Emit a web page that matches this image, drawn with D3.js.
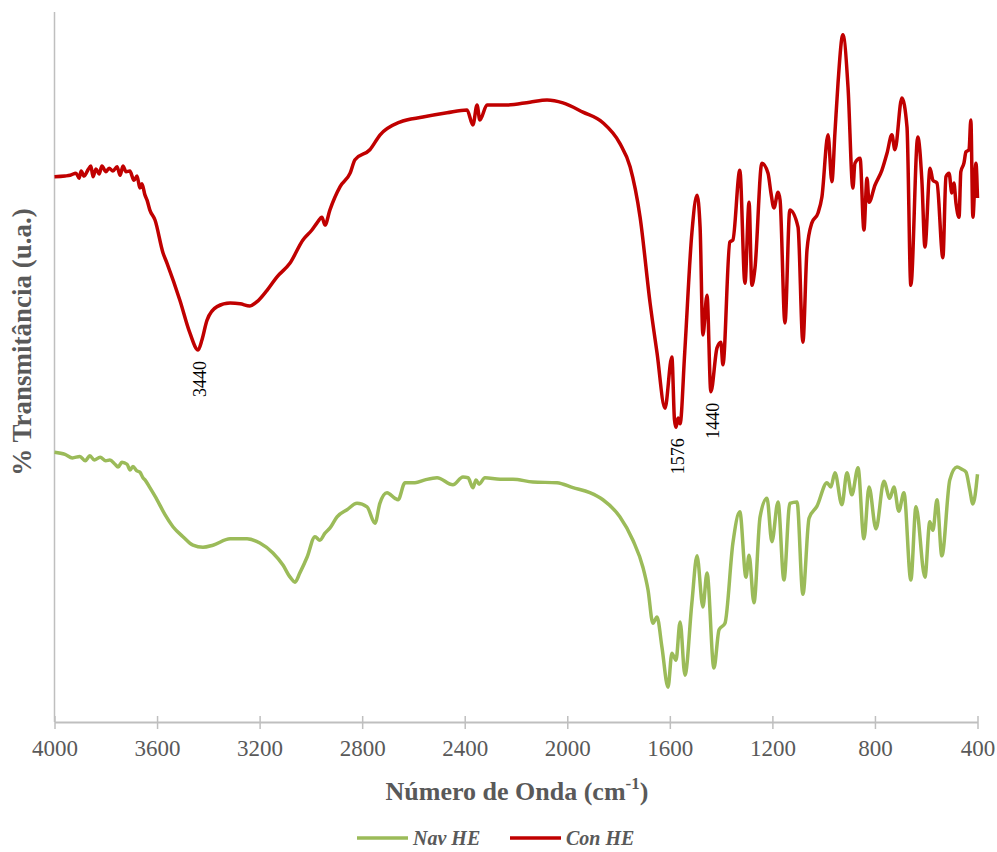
<!DOCTYPE html>
<html>
<head>
<meta charset="utf-8">
<script src="https://cdn.jsdelivr.net/npm/d3@7/dist/d3.min.js"></script>
<style>
  body { margin: 0; background: #ffffff; }
  svg { display: block; }
  text { font-family: "Liberation Serif", Tinos, "Times New Roman", Times, "DejaVu Serif", serif; }
</style>
</head>
<body>
<svg id="chart" width="997" height="852"></svg>
<script>
// FTIR spectra (stacked, arbitrary transmittance units)
const conWavenumber = [4000,3959,3939,3916,3904,3896,3885,3869,3858,3850,3838,3826,3815,3799,3787,3772,3756,3744,3733,3721,3706,3690,3678,3667,3659,3647,3639,3628,3608,3577,3561,3511,3472,3440,3425,3405,3366,3315,3276,3238,3210,3171,3132,3082,3031,2996,2976,2957,2945,2926,2886,2847,2828,2770,2730,2653,2563,2469,2391,2368,2352,2341,2313,2235,2146,2079,2017,1939,1861,1795,1755,1716,1677,1650,1619,1592,1582,1576,1568,1560,1542,1514,1494,1482,1471,1455,1440,1416,1401,1393,1366,1354,1327,1307,1291,1280,1268,1241,1217,1206,1194,1178,1170,1151,1132,1100,1081,1065,1046,1022,1007,983,968,956,944,925,905,886,878,858,843,831,823,800,773,753,734,722,695,675,660,633,617,605,585,574,558,535,523,511,500,492,484,472,465,453,445,433,426,418,406,400];
const conTransmittance = [76.8,76.9,77.0,77.3,76.6,77.6,76.9,77.8,78.3,76.8,77.9,77.2,78.3,77.5,78.0,77.6,78.2,77.0,78.3,77.5,77.6,76.3,76.9,75.2,75.8,74.2,73.5,72.1,70.7,66.1,64.6,59.4,54.8,52.4,53.8,56.6,58.5,59.0,58.9,58.6,59.2,60.8,62.7,64.6,67.9,69.3,70.3,71.1,70.0,72.1,75.4,77.3,79.2,80.6,82.7,84.5,85.2,85.8,86.2,84.1,86.9,84.8,86.9,86.9,87.3,87.6,87.2,85.9,84.4,81.5,78.2,71.1,59.0,52.0,44.2,51.4,42.6,41.5,42.8,42.0,52.0,68.9,74.2,69.7,54.5,60.1,46.5,52.7,53.5,50.3,67.6,67.9,77.7,61.8,73.2,61.5,63.9,78.7,77.3,74.6,72.4,74.6,73.5,56.2,72.1,69.7,53.5,66.5,70.3,71.7,73.9,82.7,76.1,83.0,90.0,96.8,89.4,75.2,78.7,79.4,69.3,76.6,73.2,75.6,77.7,80.1,82.7,80.6,87.9,83.8,61.5,82.4,76.3,66.9,78.0,76.3,75.9,65.4,76.8,77.3,74.5,75.9,73.1,71.1,77.5,78.7,80.3,80.6,84.8,71.1,78.7,73.8];

const navWavenumber = [4000,3959,3930,3901,3880,3862,3845,3822,3800,3784,3764,3752,3737,3717,3705,3694,3680,3667,3655,3647,3628,3600,3569,3538,3499,3460,3421,3382,3315,3249,3199,3148,3109,3081,3062,3043,3015,2984,2965,2945,2926,2898,2859,2820,2781,2750,2731,2703,2672,2660,2633,2594,2555,2508,2446,2407,2387,2368,2356,2344,2321,2262,2212,2134,2040,1978,1912,1861,1795,1744,1705,1685,1666,1650,1631,1607,1592,1576,1560,1541,1514,1494,1471,1455,1428,1408,1385,1354,1327,1303,1291,1272,1248,1221,1202,1178,1155,1132,1104,1081,1057,1026,987,972,956,929,909,890,866,843,823,796,765,742,726,707,687,660,640,605,586,574,558,539,508,480,461,445,430,418,400];
const navTransmittance = [38.0,37.7,37.2,37.4,36.8,37.5,36.9,37.3,36.8,36.9,36.3,35.9,36.6,36.3,35.5,36.0,35.4,35.2,34.4,34.1,33.0,31.3,29.2,27.5,26.1,24.9,24.6,24.9,25.8,25.8,25.2,23.8,22.1,20.4,19.7,21.0,23.2,26.1,25.6,26.6,27.3,28.9,29.9,30.8,30.3,28.0,30.8,32.3,31.5,31.3,33.7,33.7,34.1,34.4,33.4,34.5,34.4,33.0,34.1,33.5,34.4,34.2,34.2,33.8,33.7,33.0,32.3,31.3,28.9,25.6,21.8,18.6,13.9,14.8,10.6,4.9,9.7,8.7,14.1,6.6,16.8,23.4,16.2,21.0,7.6,13.0,13.9,25.2,29.6,20.4,23.5,16.8,28.9,31.5,25.4,31.0,20.0,30.8,31.0,18.0,28.7,30.4,33.7,33.1,35.1,30.6,35.1,32.0,35.8,25.8,33.1,27.2,33.9,31.5,33.1,29.7,32.3,20.0,30.3,20.4,28.2,27.0,31.3,23.4,34.1,35.9,35.6,35.2,32.7,30.7,34.9];

const xTickValues = [4000,3600,3200,2800,2400,2000,1600,1200,800,400];
const peakLabels = [3440,1576,1440];
const seriesNames = ["Nav HE","Con HE"];
const seriesColors = ["#9BBB59","#C00000"];

const svg = d3.select("#chart");
const textGray = "#595959";
const axisGray = "#BFBFBF";
const serifFont = "'Liberation Serif', Tinos, 'Times New Roman', Times, 'DejaVu Serif', serif";

const x = d3.scaleLinear().domain([4000, 400]).range([54.5, 977.5]);
const y = d3.scaleLinear().domain([0, 100]).range([722, 12]);

// Vertical axis: plain line, no ticks
svg.append("line")
  .attr("x1", x(4000)).attr("x2", x(4000))
  .attr("y1", y(100)).attr("y2", y(0))
  .attr("stroke", axisGray).attr("stroke-width", 1.5);

// Horizontal axis with crossing tick marks
const xAxis = d3.axisBottom(x).tickValues(xTickValues).tickFormat(d3.format("d"))
  .tickSize(0).tickSizeOuter(0).tickPadding(0);
const gx = svg.append("g").attr("transform", `translate(0,${y(0)})`).call(xAxis)
  .attr("font-family", serifFont);
gx.select(".domain").attr("stroke", axisGray).attr("stroke-width", 2);
gx.selectAll(".tick line").remove();
gx.selectAll(".tick").append("line")
  .attr("y1", -6).attr("y2", 7)
  .attr("stroke", axisGray).attr("stroke-width", 1.5);
gx.selectAll(".tick text")
  .attr("y", 26)
  .attr("dy", "0.35em")
  .attr("fill", textGray)
  .style("font-family", serifFont)
  .style("font-size", "23px");

// Spectra
const line = d3.line()
  .x(d => x(d[0]))
  .y(d => y(d[1]))
  .curve(d3.curveMonotoneX);

const navData = d3.zip(navWavenumber, navTransmittance);
const conData = d3.zip(conWavenumber, conTransmittance);

svg.append("path").datum(navData)
  .attr("fill", "none").attr("stroke", seriesColors[0])
  .attr("stroke-width", 3.5).attr("stroke-linejoin", "round")
  .attr("d", line);

svg.append("path").datum(conData)
  .attr("fill", "none").attr("stroke", seriesColors[1])
  .attr("stroke-width", 3.5).attr("stroke-linejoin", "round")
  .attr("d", line);

// Band labels below the Con HE minima
const conAt = wn => conTransmittance[conWavenumber.indexOf(wn)];
svg.selectAll(".peak").data(peakLabels).enter().append("text")
  .attr("class", "peak")
  .attr("transform", d => `translate(${x(d) + 2},${y(conAt(d)) + 11}) rotate(-90)`)
  .attr("text-anchor", "end")
  .attr("dy", "0.35em")
  .attr("fill", "#000")
  .style("font-family", serifFont)
  .style("font-size", "18px")
  .text(d => d);

// Axis titles
const xTitle = svg.append("text")
  .attr("x", 517).attr("y", 800)
  .attr("text-anchor", "middle")
  .attr("fill", textGray)
  .style("font-family", serifFont)
  .style("font-size", "26px").style("font-weight", "bold");
xTitle.append("tspan").text("Número de Onda (cm");
xTitle.append("tspan").attr("dy", -11).style("font-size", "17px").text("-1");
xTitle.append("tspan").attr("dy", 11).text(")");

svg.append("text")
  .attr("transform", "translate(22,342) rotate(-90)")
  .attr("text-anchor", "middle")
  .attr("dy", "0.35em")
  .attr("fill", textGray)
  .style("font-family", serifFont)
  .style("font-size", "27px").style("font-weight", "bold")
  .text("% Transmitância (u.a.)");

// Legend
const legendItems = [
  { name: seriesNames[0], color: seriesColors[0], x: 357 },
  { name: seriesNames[1], color: seriesColors[1], x: 510 }
];
const lg = svg.append("g").attr("transform", "translate(0,838)");
const li = lg.selectAll("g").data(legendItems).enter().append("g")
  .attr("transform", d => `translate(${d.x},0)`);
li.append("line").attr("x1", 0).attr("x2", 51)
  .attr("stroke", d => d.color).attr("stroke-width", 3.5);
li.append("text").attr("x", 56).attr("dy", "0.35em")
  .attr("fill", textGray)
  .style("font-family", serifFont)
  .style("font-size", "20px").style("font-weight", "bold").style("font-style", "italic")
  .text(d => d.name);
</script>
</body>
</html>
